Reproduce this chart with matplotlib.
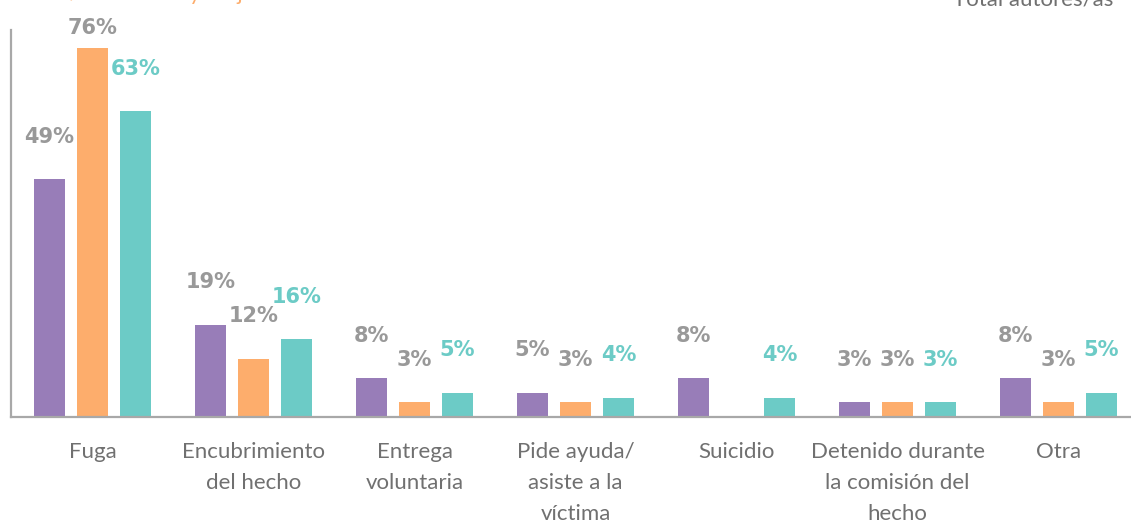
#!/usr/bin/env python3
"""Barras agrupadas: acción del autor/a posterior al hecho (%)"""

import matplotlib
matplotlib.use("Agg")
import matplotlib.pyplot as plt
import numpy as np

CATEGORIAS = ["Fuga", "Encubrimiento\ndel hecho", "Entrega\nvoluntaria",
              "Pide ayuda/\nasiste a la\nvíctima", "Suicidio",
              "Detenido durante\nla comisión del\nhecho", "Otra"]
SERIE_A = [49, 19, 8, 5, 8, 3, 8]   # violeta
SERIE_B = [76, 12, 3, 3, 0, 3, 3]   # naranja
TOTAL = [63, 16, 5, 4, 4, 3, 5]     # turquesa

VIOLETA = "#987db8"
NARANJA = "#fdad6c"
TURQUESA = "#6ccbc6"
GRIS_ETQ = "#999999"
GRIS_TXT = "#707070"
FUENTE = ["Lato", "DejaVu Sans"]
FUENTE_NUM = ["DejaVu Sans"]

W, H = 1131, 521
fig = plt.figure(figsize=(W / 100, H / 100), dpi=100)
ax = fig.add_axes([11 / W, (H - 417) / H, 1 - 11 / W, (417 - 30) / H])

x = np.arange(len(CATEGORIAS))
ancho = 31 / 161
paso = 43 / 161

series = [(SERIE_A, VIOLETA, -paso, GRIS_ETQ),
          (SERIE_B, NARANJA, 0.0, GRIS_ETQ),
          (TOTAL, TURQUESA, paso, TURQUESA)]

ymax = (417 - 30) / 4.85
for vals, col, off, col_txt in series:
    ax.bar(x + off, vals, width=ancho, color=col, zorder=2)
    for xi, v in zip(x + off, vals):
        if v <= 0:
            continue
        ypos = min(v + 8.8, 80.2)
        ax.text(xi, ypos, f"{v}%", ha="center", va="center", fontsize=15,
                fontweight="bold", color=col_txt, family=FUENTE_NUM, clip_on=False)

ax.set_xlim(-81.5 / 161, (W - 11) / 161 - 81.5 / 161)
ax.set_ylim(0, ymax)

ax.set_xticks(x)
ax.set_xticklabels(CATEGORIAS, fontsize=16, color=GRIS_TXT, family=FUENTE,
                   linespacing=1.68, va="top")
ax.tick_params(axis="x", length=0, pad=18)
ax.set_yticks([])

for s in ["top", "right"]:
    ax.spines[s].set_visible(False)
for s in ["left", "bottom"]:
    ax.spines[s].set_color("#a8a8a8")
    ax.spines[s].set_linewidth(1.6)

# textos de leyenda recortados en el borde superior
fig.text(1113 / W, 1 - 5 / H, "Total autores/as", ha="right", va="baseline",
         fontsize=16, color=GRIS_TXT, family=FUENTE)
fig.text(-8 / W, 1.0, "Autores/as varones y mujeres", ha="left",
         va="baseline", fontsize=16, color=NARANJA, family=FUENTE)

fig.savefig("out.png", dpi=100)
